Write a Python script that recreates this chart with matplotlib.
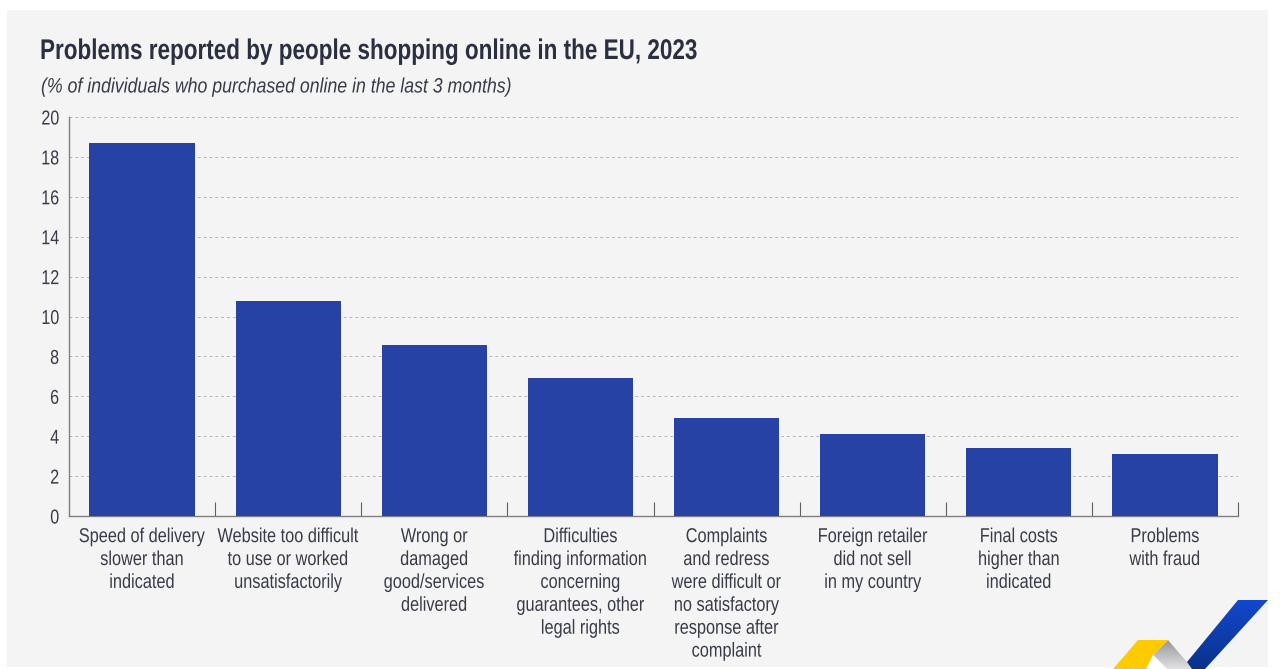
import numpy as np
from matplotlib import pyplot as plt
from matplotlib.patches import Rectangle, Polygon
from matplotlib.patheffects import AbstractPathEffect
from matplotlib.transforms import Affine2D

W, H = 1280, 669

categories = [
    'Speed of delivery\nslower than\nindicated',
    'Website too difficult\nto use or worked\nunsatisfactorily',
    'Wrong or\ndamaged\ngood/services\ndelivered',
    'Difficulties\nfinding information\nconcerning\nguarantees, other\nlegal rights',
    'Complaints\nand redress\nwere difficult or\nno satisfactory\nresponse after\ncomplaint',
    'Foreign retailer\ndid not sell\nin my country',
    'Final costs\nhigher than\nindicated',
    'Problems\nwith fraud',
]
values = [18.7, 10.8, 8.55, 6.9, 4.9, 4.1, 3.4, 3.1]
y_ticks = [0, 2, 4, 6, 8, 10, 12, 14, 16, 18, 20]

plt.rcParams['font.family'] = ['Liberation Sans', 'DejaVu Sans']


class Narrow(AbstractPathEffect):
    # squeeze the glyphs sideways, no condensed font is installed
    def __init__(self, sx, anchor='center'):
        super().__init__()
        self.sx = sx
        self.anchor = anchor

    def draw_path(self, renderer, gc, tpath, affine, rgbFace=None):
        ext = tpath.get_extents()
        cx = {'left': 0, 'center': (ext.x0 + ext.x1) / 2, 'right': ext.x1}[self.anchor]
        squeeze = Affine2D().translate(-cx, 0).scale(self.sx, 1).translate(cx, 0)
        renderer.draw_path(gc, tpath, squeeze + affine, rgbFace)


fig = plt.figure(figsize=(W / 100, H / 100), dpi=100, facecolor='white')


def px(x, y):
    # pixel position (from top left) to figure fraction
    return x / W, 1 - y / H


# background panel
fig.patches.append(Rectangle(px(7, 667), 1261 / W, 657 / H, transform=fig.transFigure,
                             facecolor='#f4f4f4', edgecolor='none', zorder=-5))

ax = fig.add_axes([69 / W, 1 - 516 / H, 1169 / W, 399 / H])
ax.patch.set_alpha(0)
x = np.arange(len(values))
ax.bar(x, values, width=0.72, color='#2742a5', zorder=3)
ax.set_xlim(-0.5, 7.5)
ax.set_ylim(0, 20)

ax.set_yticks(y_ticks)
ax.set_xticks(x)
ax.set_xticklabels(categories, fontsize=14.5, color='#383c48', linespacing=1.26)
ax.tick_params(axis='x', length=0, pad=8)
ax.tick_params(axis='y', length=0, pad=7, labelsize=14.5, labelcolor='#383c48')
for t in ax.get_xticklabels():
    t.set_path_effects([Narrow(0.81)])
for t in ax.get_yticklabels():
    t.set_path_effects([Narrow(0.8, 'right')])

ax.set_xticks(np.arange(0.5, 8.5), minor=True)
ax.tick_params(axis='x', which='minor', direction='in', length=10, width=0.8, color='#606060')

ax.grid(axis='y', linestyle=(0, (3, 3)), linewidth=0.7, color='#b5b5b5', zorder=0)
for s in ['top', 'right']:
    ax.spines[s].set_visible(False)
for s in ['left', 'bottom']:
    ax.spines[s].set_color('#808080')
    ax.spines[s].set_linewidth(1)

fig.text(*px(40, 52), 'Problems reported by people shopping online in the EU, 2023',
         fontsize=20.5, fontweight='bold', color='#2a3040', va='center', ha='left',
         path_effects=[Narrow(0.79, 'left')])
fig.text(*px(41, 87), '(% of individuals who purchased online in the last 3 months)',
         fontsize=15, style='italic', color='#383c48', va='center', ha='left',
         path_effects=[Narrow(0.85, 'left')])

# logo in the corner, gradients clipped to the shapes
logo_ax = fig.add_axes([0, 0, 1, 1], zorder=5)
logo_ax.set_xlim(0, W)
logo_ax.set_ylim(H, 0)
logo_ax.axis('off')

logo_white = [(1146, 669), (1153, 655), (1167, 669)]
logo_ax.add_patch(Polygon(logo_white, closed=True, facecolor='white', edgecolor='none'))
logo_ax.add_patch(Polygon([(1138, 640), (1168, 640), (1153, 655), (1146, 669), (1113, 669)],
                          closed=True, facecolor='#fdcb00', edgecolor='none'))


def gradient_shape(pts, start, end, extent):
    c0, c1 = np.array(start) / 255, np.array(end) / 255
    t = np.linspace(0, 1, 64)[:, None, None]
    img = (1 - t) * c0[None, None, :] + t * c1[None, None, :]
    im = logo_ax.imshow(img, extent=extent, aspect='auto', interpolation='bilinear')
    patch = Polygon(pts, closed=True, facecolor='none', edgecolor='none')
    logo_ax.add_patch(patch)
    im.set_clip_path(patch)


gradient_shape([(1168, 640), (1193, 669), (1167, 669), (1153, 655)],
               (150, 151, 154), (225, 225, 226), (1150, 1195, 669, 640))
gradient_shape([(1238, 600), (1268, 600), (1205, 669), (1192, 669), (1187, 662)],
               (18, 72, 205), (10, 50, 140), (1185, 1270, 669, 600))
logo_ax.set_xlim(0, W)
logo_ax.set_ylim(H, 0)

fig.savefig('out.png', dpi=100, facecolor='white')
